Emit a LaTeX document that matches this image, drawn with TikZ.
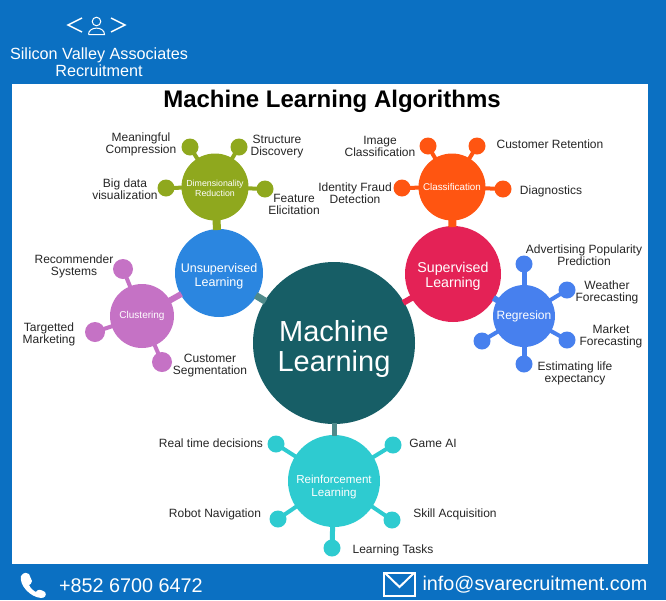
\documentclass[tikz,border=0pt]{standalone}
\usepackage[dvipsnames]{xcolor}
\usepackage{fontspec}
\setmainfont{Liberation Sans}
\definecolor{frame blue}{HTML}{0B70C2}
\definecolor{core teal}{HTML}{175E66}
\definecolor{core link}{HTML}{4F8A8B}
\definecolor{unsup blue}{HTML}{2B86E0}
\definecolor{sup red}{HTML}{E42256}
\definecolor{class orange}{HTML}{FF5511}
\definecolor{regr blue}{HTML}{4780EE}
\definecolor{dim green}{HTML}{8FA81E}
\definecolor{clust purple}{HTML}{C572C5}
\definecolor{reinf cyan}{HTML}{2ECBD0}

\begin{document}
\begin{tikzpicture}[x=1pt,y=-1pt,-,line width=4pt,
    hub node/.style={circle,fill=#1,text=white,inner sep=0pt,outer sep=-1pt,align=center},
    leaf node/.style={circle,fill=#1,inner sep=0pt,outer sep=-1pt,minimum size=17pt},
    drop/.style={execute at begin node={\rule{0pt}{#1}}},
    item label/.style={align=center,inner sep=0pt,text=black!85,font=\fontsize{12}{12}\selectfont},
    foot label/.style={anchor=west,inner sep=0pt,text=white,font=\fontsize{19.8}{20}\selectfont}]
                        \useasboundingbox (0,0) rectangle (666,600);
                        \fill[frame blue] (0,0) rectangle (666,600);
                        \fill[white] (12,84) rectangle (648,564);

                        % logo
                        \draw[white,line width=1.5pt] (82,18) -- (68,25) -- (82,32);
                        \draw[white,line width=1.5pt] (111,18) -- (125,25) -- (111,32);
                        \draw[white,line width=1pt] (96.5,21.5) circle (4.3);
                        \draw[white,line width=1pt] (88.5,34.5) -- (104.5,34.5) .. controls (104.5,26) and (88.5,26) .. (88.5,34.5);
                        \node[inner sep=0pt,text=white,align=center,font=\fontsize{16.2}{17.5}\selectfont] (logo) at (99,62) {Silicon Valley Associates\\Recruitment};

                        \node[inner sep=0pt,font=\fontsize{24}{24}\selectfont\bfseries] (title) at (332,101) {Machine Learning Algorithms};

                        % main circles
                        \node[hub node=core teal,minimum size=162pt,drop=63pt,font=\fontsize{29}{30}\selectfont] (core) at (334,343) {Machine\\Learning};
                        \node[hub node=unsup blue,minimum size=88pt,drop=30pt,font=\fontsize{12.5}{14}\selectfont] (unsup) at (219,273) {Unsupervised\\Learning};
                        \node[hub node=sup red,minimum size=96pt,drop=29.5pt,font=\fontsize{14.2}{15}\selectfont] (sup) at (453,274) {Supervised\\Learning};
                        \node[hub node=reinf cyan,minimum size=92pt,drop=33.5pt,font=\fontsize{11.6}{13}\selectfont] (reinf) at (334,481) {Reinforcement\\Learning};
                        \node[hub node=dim green,minimum size=67pt,drop=18.4pt,font=\fontsize{8.8}{10}\selectfont] (dim) at (215,187) {Dimensionality\\Reduction};
                        \node[hub node=class orange,minimum size=67pt,font=\fontsize{9.8}{10}\selectfont] (class) at (452,187) {Classification};
                        \node[hub node=regr blue,minimum size=62pt,font=\fontsize{12}{12}\selectfont] (regr) at (524,316) {Regresion};
                        \node[hub node=clust purple,minimum size=64pt,font=\fontsize{10}{10}\selectfont] (clust) at (142,316) {Clustering};

                        % small dots
                        \node[leaf node=dim green] (d1) at (190,147) {};
                        \node[leaf node=dim green] (d2) at (239,147) {};
                        \node[leaf node=dim green] (d3) at (166,188) {};
                        \node[leaf node=dim green] (d4) at (265,189) {};

                        \node[leaf node=class orange] (c1) at (428,146) {};
                        \node[leaf node=class orange] (c2) at (477,146) {};
                        \node[leaf node=class orange] (c3) at (402,188) {};
                        \node[leaf node=class orange] (c4) at (503,189) {};

                        \node[leaf node=regr blue] (r1) at (524,264) {};
                        \node[leaf node=regr blue] (r2) at (567,290) {};
                        \node[leaf node=regr blue] (r3) at (567,340) {};
                        \node[leaf node=regr blue] (r4) at (524,364) {};
                        \node[leaf node=regr blue] (r5) at (482,341) {};

                        \node[leaf node=clust purple,minimum size=20pt] (k1) at (123,269) {};
                        \node[leaf node=clust purple,minimum size=20pt] (k2) at (95,332) {};
                        \node[leaf node=clust purple,minimum size=20pt] (k3) at (162,362) {};

                        \node[leaf node=reinf cyan] (f1) at (276,444) {};
                        \node[leaf node=reinf cyan] (f2) at (393,445) {};
                        \node[leaf node=reinf cyan] (f3) at (278,519) {};
                        \node[leaf node=reinf cyan] (f4) at (392,520) {};
                        \node[leaf node=reinf cyan] (f5) at (332,548) {};

                        % labels
                        \node[item label] (d1t) at (141,144) {Meaningful\\Compression};
                        \node[item label] (d2t) at (277,147) {Structure\\Discovery};
                        \node[item label] (d3t) at (125,189) {Big data\\visualization};
                        \node[item label] (d4t) at (294,204) {Feature\\Elicitation};

                        \node[item label] (c1t) at (380,146) {Image\\Classification};
                        \node[item label] (c2t) at (550,144) {Customer Retention};
                        \node[item label] (c3t) at (355,193) {Identity Fraud\\Detection};
                        \node[item label] (c4t) at (551,191) {Diagnostics};

                        \node[item label] (r1t) at (584,255) {Advertising Popularity\\Prediction};
                        \node[item label] (r2t) at (607,292) {Weather\\Forecasting};
                        \node[item label] (r3t) at (611,336) {Market\\Forecasting};
                        \node[item label] (r4t) at (575,373) {Estimating life\\expectancy};

                        \node[item label] (k1t) at (74,266) {Recommender\\Systems};
                        \node[item label] (k2t) at (49,334) {Targetted\\Marketing};
                        \node[item label] (k3t) at (210,366) {Customer\\Segmentation};

                        \node[item label] (f1t) at (211,443) {Real time decisions};
                        \node[item label] (f2t) at (433,443) {Game AI};
                        \node[item label] (f3t) at (215,514) {Robot Navigation};
                        \node[item label] (f4t) at (455,514) {Skill Acquisition};
                        \node[item label] (f5t) at (393,550) {Learning Tasks};

                        \path
                                (core) edge[core link,line width=7pt] (unsup)
                                (core) edge[sup red,line width=6pt] (sup)
                                (core) edge[core link,line width=5pt] (reinf)
                                (unsup) edge[dim green,line width=8pt] (dim)
                                (unsup) edge[clust purple,line width=6pt] (clust)
                                (sup) edge[class orange,line width=8pt] (class)
                                (sup) edge[regr blue,line width=6pt] (regr)

                                (dim) edge[dim green] (d1)
                                (dim) edge[dim green] (d2)
                                (dim) edge[dim green] (d3)
                                (dim) edge[dim green] (d4)

                                (class) edge[class orange] (c1)
                                (class) edge[class orange] (c2)
                                (class) edge[class orange] (c3)
                                (class) edge[class orange] (c4)

                                (regr) edge[regr blue,line width=5pt] (r1)
                                (regr) edge[regr blue] (r2)
                                (regr) edge[regr blue] (r3)
                                (regr) edge[regr blue,line width=5pt] (r4)
                                (regr) edge[regr blue] (r5)

                                (clust) edge[clust purple] (k1)
                                (clust) edge[clust purple] (k2)
                                (clust) edge[clust purple] (k3)

                                (reinf) edge[reinf cyan] (f1)
                                (reinf) edge[reinf cyan] (f2)
                                (reinf) edge[reinf cyan] (f3)
                                (reinf) edge[reinf cyan] (f4)
                                (reinf) edge[reinf cyan,line width=5pt] (f5)

                            ;

                        % footer
                        \fill[white] (21,576) .. controls (24,572) and (27,572) .. (29,574) -- (32,581) .. controls (32,584) and (30,584) .. (29,585) .. controls (31,589) and (34,591) .. (36,592) .. controls (38,589) and (40,589) .. (45,592) .. controls (47,595) and (45,598) .. (41,598) .. controls (30,597) and (19,585) .. (21,576) -- cycle;
                        \node[foot label] (phone) at (57,585.5) {+852 6700 6472};
                        \draw[white,line width=2pt] (384,572.5) rectangle (415,596);
                        \draw[white,line width=2pt] (385,573) -- (399.5,587) -- (414,573);
                        \node[foot label] (mail) at (420.5,584.5) {info@svarecruitment.com};
\end{tikzpicture}
\end{document}
